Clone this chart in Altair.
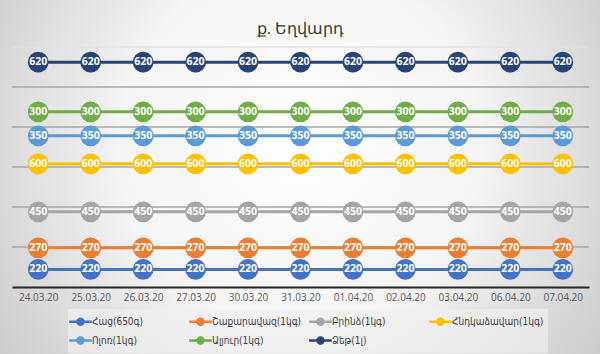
import altair as alt
import pandas as pd

title_text = "ք. Եղվարդ"
dates = ["24.03.20", "25.03.20", "26.03.20", "27.03.20", "30.03.20", "31.03.20",
         "01.04.20", "02.04.20", "03.04.20", "06.04.20", "07.04.20"]
series = ["Հաց(650գ)", "Շաքարավազ(1կգ)", "Բրինձ(1կգ)", "Հնդկաձավար(1կգ)",
          "Ոլոռ(1կգ)", "Ալյուր(1կգ)", "Ձեթ(1լ)"]
colors = ["#4472C4", "#ED7D31", "#A5A5A5", "#FFC000", "#5B9BD5", "#70AD47", "#264478"]

bread = [220, 220, 220, 220, 220, 220, 220, 220, 220, 220, 220]
sugar = [270, 270, 270, 270, 270, 270, 270, 270, 270, 270, 270]
rice = [450, 450, 450, 450, 450, 450, 450, 450, 450, 450, 450]
buckwheat = [600, 600, 600, 600, 600, 600, 600, 600, 600, 600, 600]
peas = [350, 350, 350, 350, 350, 350, 350, 350, 350, 350, 350]
flour = [300, 300, 300, 300, 300, 300, 300, 300, 300, 300, 300]
oil = [620, 620, 620, 620, 620, 620, 620, 620, 620, 620, 620]
grid_values = [500, 1000, 1500, 2000, 2500]
top_grid = [3000]

values = [bread, sugar, rice, buckwheat, peas, flour, oil]
rows = []
for si, (name, vals) in enumerate(zip(series, values)):
    for d, v in zip(dates, vals):
        rows.append({"date": d, "series": name, "price": v, "order": si})
df = pd.DataFrame(rows)

FONT = "Open Sans"
LEG_FONT = "DejaVu Sans Condensed, DejaVu Sans"

x_enc = alt.X("date:N", sort=dates,
              scale=alt.Scale(type="point", padding=0.5),
              axis=alt.Axis(title=None, labelAngle=0, ticks=False, grid=False,
                            domainColor="#262626", domainWidth=2,
                            labelColor="#595959", labelFontSize=10, labelFont=FONT,
                            labelPadding=5, zindex=2))
y_scale = alt.Scale(domain=[0, 3000], nice=False)
y_enc = alt.Y("cum:Q", scale=y_scale, axis=None)

base = alt.Chart(df).transform_window(
    cum="sum(price)", groupby=["date"], sort=[alt.SortField("order")], frame=[None, 0]
)

bg = alt.Chart(pd.DataFrame({"a": [0]})).mark_rect(
    fill={"gradient": "radial", "x1": 0.5, "y1": 0.45, "x2": 0.5, "y2": 0.45,
          "r1": 0, "r2": 0.75,
          "stops": [{"offset": 0, "color": "#ffffff"},
                    {"offset": 0.4, "color": "#f4f4f4"},
                    {"offset": 1, "color": "#b8b8b8"}]}
).encode(x=alt.value(-12), x2=alt.value(588), y=alt.value(-47), y2=alt.value(307))

grid = alt.Chart(pd.DataFrame({"g": grid_values})).mark_rule(
    color="#a6a6a6", strokeWidth=1.5
).encode(y=alt.Y("g:Q", scale=y_scale, axis=None))

grid_top = alt.Chart(pd.DataFrame({"g": top_grid})).mark_rule(
    color="#e2e2e2", strokeWidth=1.5
).encode(y=alt.Y("g:Q", scale=y_scale, axis=None))

color_scale = alt.Scale(domain=series, range=colors)

legend_path = "M-1.6,0L1.6,0M-0.42,0A0.42,0.42,0,1,1,0.42,0A0.42,0.42,0,1,1,-0.42,0Z"
leg = alt.Legend(title=None, orient="none", legendX=56, legendY=262,
                 columns=4, direction="horizontal", gridAlign="all",
                 symbolType=legend_path, symbolSize=200, symbolStrokeWidth=2.5,
                 labelFontSize=10, labelColor="#404040", labelFont=LEG_FONT,
                 fillColor="rgba(240,240,240,0.65)", padding=4,
                 rowPadding=2, columnPadding=0, labelOffset=3, zindex=3)

lines = base.mark_line(strokeWidth=3).encode(
    x=x_enc, y=y_enc,
    color=alt.Color("series:N", scale=color_scale, legend=leg),
    detail="series:N",
)

circles = base.mark_point(filled=True, shape="circle", size=430, strokeWidth=0,
                          opacity=1).encode(
    x=x_enc, y=y_enc,
    color=alt.Color("series:N", scale=color_scale, legend=leg),
)

labels = base.mark_text(color="white", fontSize=10.5, fontWeight="bold", font=FONT,
                        baseline="middle", align="center").encode(
    x=x_enc, y=y_enc, text="price:Q"
)

chart = alt.layer(bg, grid, grid_top, lines, circles, labels).properties(
    width=577, height=240,
    title=alt.Title(title_text, fontSize=16, color="#3a3a3a", font=FONT,
                    fontWeight=500, anchor="middle", offset=-37, zindex=3),
    autosize=alt.AutoSizeParams(type="none"),
    padding={"left": 12, "top": 47, "right": 11, "bottom": 67},
    background="#d6d6d6",
).configure_view(stroke=None)

chart.save("out.html", embed_options={"renderer": "svg", "actions": False})
